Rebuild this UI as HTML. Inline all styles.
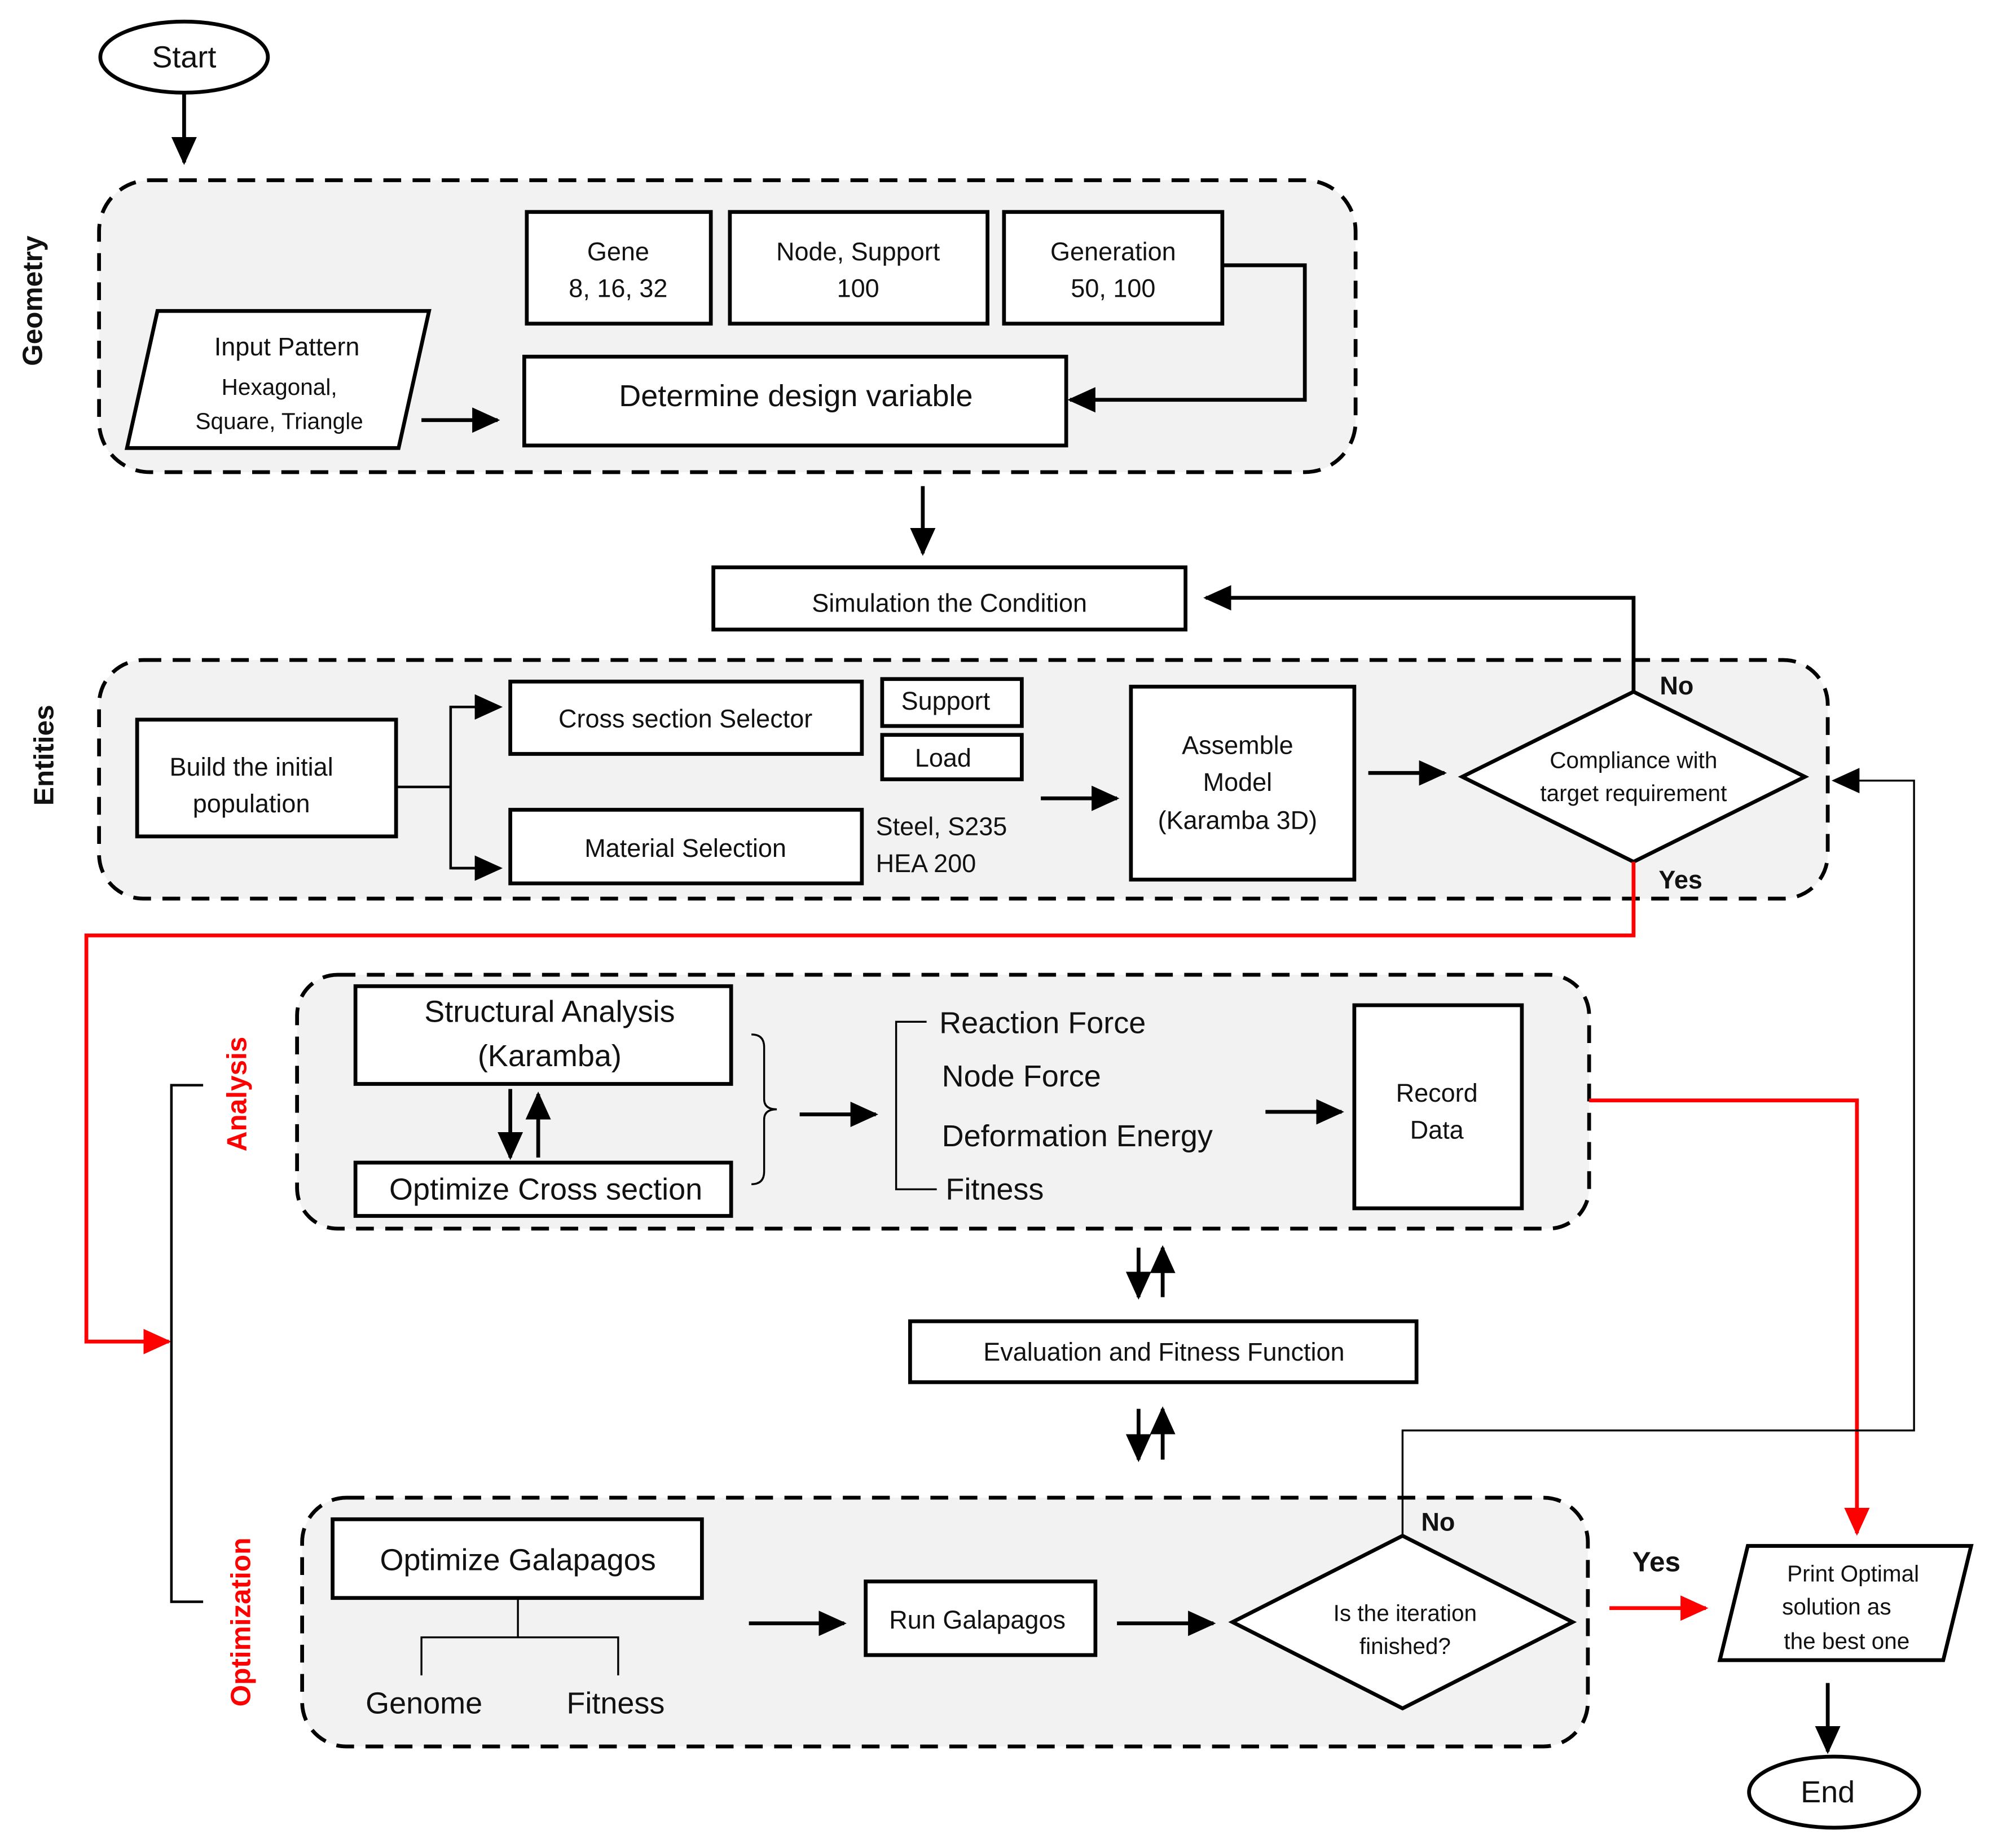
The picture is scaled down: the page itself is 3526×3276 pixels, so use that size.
<!DOCTYPE html>
<html><head><meta charset="utf-8"><style>
html,body{margin:0;padding:0;background:#fff;}
svg{display:block;}
text{font-family:"Liberation Sans",sans-serif;fill:#111;}
</style></head><body>
<svg width="3526" height="3276" viewBox="0 0 1567 1456" xmlns="http://www.w3.org/2000/svg">
<defs>
<marker id="a" markerWidth="8" markerHeight="8" refX="7" refY="4" orient="auto" markerUnits="userSpaceOnUse" viewBox="0 0 8 8"><path d="M0,0 L8,4 L0,8z" fill="#000"/></marker>
<marker id="ab" markerWidth="22" markerHeight="20" refX="20" refY="10" orient="auto" markerUnits="userSpaceOnUse"><path d="M0,0 L22,10 L0,20z" fill="#000"/></marker>
<marker id="ar" markerWidth="22" markerHeight="20" refX="20" refY="10" orient="auto" markerUnits="userSpaceOnUse"><path d="M0,0 L22,10 L0,20z" fill="#f00"/></marker>
</defs>
<g fill="none" stroke="#000" stroke-width="3">
<!-- groups -->
<rect x="78" y="142" width="990" height="230" rx="40" fill="#f2f2f2" stroke-dasharray="14,9"/>
<rect x="78" y="520" width="1362" height="188" rx="35" fill="#f2f2f2" stroke-dasharray="14,9"/>
<rect x="234" y="768" width="1018" height="200" rx="32" fill="#f2f2f2" stroke-dasharray="14,9"/>
<rect x="238" y="1180" width="1013" height="196" rx="35" fill="#f2f2f2" stroke-dasharray="14,9"/>

<ellipse cx="145" cy="45" rx="66" ry="28" fill="#fff"/>
<line x1="145" y1="74" x2="145" y2="128" marker-end="url(#ab)"/>
<rect x="415" y="167" width="145" height="88" fill="#fff"/>
<rect x="575" y="167" width="203" height="88" fill="#fff"/>
<rect x="791" y="167" width="172" height="88" fill="#fff"/>
<rect x="413" y="281" width="427" height="70" fill="#fff"/>
<polyline points="963,209 1028,209 1028,315 843,315" marker-end="url(#ab)"/>
<polygon points="124,245 338,245 314,353 100,353" fill="#fff"/>
<line x1="332" y1="331" x2="392" y2="331" marker-end="url(#ab)"/>
<line x1="727" y1="383" x2="727" y2="436" marker-end="url(#ab)"/>
<rect x="562" y="447" width="372" height="49" fill="#fff"/>
<polyline points="1287,545 1287,471 950,471" marker-end="url(#ab)"/>

<rect x="108" y="567" width="204" height="92" fill="#fff"/>
<polyline points="312,620 355,620" stroke-width="2"/>
<polyline points="394,557 355,557 355,684 394,684" stroke-width="2" fill="none"/>
<line x1="356" y1="557" x2="394" y2="557" marker-end="url(#ab)" stroke-width="2"/>
<line x1="356" y1="684" x2="394" y2="684" marker-end="url(#ab)" stroke-width="2"/>
<rect x="402" y="537" width="277" height="57" fill="#fff"/>
<rect x="402" y="638" width="277" height="58" fill="#fff"/>
<rect x="695" y="535" width="110" height="37" fill="#fff"/>
<rect x="695" y="579" width="110" height="35" fill="#fff"/>
<line x1="820" y1="629" x2="880" y2="629" marker-end="url(#ab)"/>
<rect x="891" y="541" width="176" height="152" fill="#fff"/>
<line x1="1078" y1="609" x2="1138" y2="609" marker-end="url(#ab)"/>
<polygon points="1152,612 1287,545 1422,612 1287,679" fill="#fff"/>
<polyline points="1287,679 1287,737 68,737 68,1057 133,1057" stroke="#f00" marker-end="url(#ar)"/>
<polyline points="160,855 135,855 135,1262 160,1262" stroke-width="2"/>

<rect x="280" y="777" width="296" height="77" fill="#fff"/>
<rect x="280" y="916" width="296" height="42" fill="#fff"/>
<line x1="402" y1="858" x2="402" y2="912" marker-end="url(#ab)"/>
<line x1="424" y1="912" x2="424" y2="862" marker-end="url(#ab)"/>
<path d="M592,815 Q602,815 602,825 L602,866 Q602,874 612,874 Q602,874 602,882 L602,923 Q602,933 592,933" stroke-width="1.5"/>
<line x1="630" y1="878" x2="690" y2="878" marker-end="url(#ab)"/>
<polyline points="730,805 706,805 706,937 738,937" stroke-width="1.5"/>
<line x1="997" y1="876" x2="1057" y2="876" marker-end="url(#ab)"/>
<rect x="1067" y="792" width="132" height="160" fill="#fff"/>
<polyline points="1252,867 1463,867 1463,1208" stroke="#f00" marker-end="url(#ar)"/>

<line x1="897" y1="983" x2="897" y2="1022" marker-end="url(#ab)"/>
<line x1="916" y1="1022" x2="916" y2="983" marker-end="url(#ab)"/>
<rect x="717" y="1041" width="399" height="48" fill="#fff"/>
<line x1="897" y1="1110" x2="897" y2="1150" marker-end="url(#ab)"/>
<line x1="916" y1="1150" x2="916" y2="1110" marker-end="url(#ab)"/>

<rect x="262" y="1197" width="291" height="62" fill="#fff"/>
<polyline points="408,1259 408,1290" stroke-width="1.5"/>
<polyline points="332,1320 332,1290 487,1290 487,1320" stroke-width="1.5"/>
<line x1="590" y1="1279" x2="665" y2="1279" marker-end="url(#ab)"/>
<rect x="682" y="1246" width="181" height="58" fill="#fff"/>
<line x1="880" y1="1279" x2="956" y2="1279" marker-end="url(#ab)"/>
<polygon points="971,1278 1105,1210 1239,1278 1105,1346" fill="#fff"/>
<polyline points="1105,1210 1105,1127 1508,1127 1508,615 1445,615" stroke-width="1.5" marker-end="url(#ab)"/>
<line x1="1268" y1="1267" x2="1344" y2="1267" stroke="#f00" marker-end="url(#ar)"/>
<polygon points="1377,1218 1553,1218 1531,1308 1355,1308" fill="#fff"/>
<line x1="1440" y1="1326" x2="1440" y2="1380" marker-end="url(#ab)"/>
<ellipse cx="1445" cy="1412" rx="67" ry="28" fill="#fff"/>
</g>

<g font-size="20" text-anchor="middle">
<text x="145" y="53" font-size="24">Start</text>
<text transform="translate(33,237) rotate(-90)" font-weight="bold" font-size="22">Geometry</text>
<text x="487" y="205">Gene</text><text x="487" y="234">8, 16, 32</text>
<text x="676" y="205">Node, Support</text><text x="676" y="234">100</text>
<text x="877" y="205">Generation</text><text x="877" y="234">50, 100</text>
<text x="627" y="320" font-size="24">Determine design variable</text>
<text x="226" y="280">Input Pattern</text>
<text x="220" y="311" font-size="18">Hexagonal,</text>
<text x="220" y="338" font-size="18">Square, Triangle</text>
<text x="748" y="482">Simulation the Condition</text>
<text transform="translate(42,595) rotate(-90)" font-weight="bold" font-size="22">Entities</text>
<text x="198" y="611">Build the initial</text><text x="198" y="640">population</text>
<text x="540" y="573">Cross section Selector</text>
<text x="540" y="675">Material Selection</text>
<text x="745" y="559">Support</text>
<text x="743" y="604">Load</text>
<text x="690" y="658" text-anchor="start">Steel, S235</text>
<text x="690" y="687" text-anchor="start">HEA 200</text>
<text x="975" y="594">Assemble</text><text x="975" y="623">Model</text><text x="975" y="653">(Karamba 3D)</text>
<text x="1287" y="605" font-size="18">Compliance with</text>
<text x="1287" y="631" font-size="18">target requirement</text>
<text x="1321" y="547" font-weight="bold">No</text>
<text x="1324" y="700" font-weight="bold">Yes</text>
<text transform="translate(194,862) rotate(-90)" font-weight="bold" font-size="22" style="fill:#f00">Analysis</text>
<text transform="translate(197,1278) rotate(-90)" font-weight="bold" font-size="22" style="fill:#f00">Optimization</text>
<text x="433" y="805" font-size="24">Structural Analysis</text>
<text x="433" y="840" font-size="24">(Karamba)</text>
<text x="430" y="945" font-size="24">Optimize Cross section</text>
<g text-anchor="start" font-size="24">
<text x="740" y="814">Reaction Force</text>
<text x="742" y="856">Node Force</text>
<text x="742" y="903">Deformation Energy</text>
<text x="745" y="945">Fitness</text>
</g>
<text x="1132" y="868">Record</text><text x="1132" y="897">Data</text>
<text x="917" y="1072">Evaluation and Fitness Function</text>
<text x="408" y="1237" font-size="24">Optimize Galapagos</text>
<text x="334" y="1350" font-size="24">Genome</text>
<text x="485" y="1350" font-size="24">Fitness</text>
<text x="770" y="1283">Run Galapagos</text>
<text x="1107" y="1277" font-size="18">Is the iteration</text>
<text x="1107" y="1303" font-size="18">finished?</text>
<text x="1133" y="1206" font-weight="bold">No</text>
<text x="1305" y="1238" font-weight="bold" font-size="22">Yes</text>
<text x="1460" y="1246" font-size="18">Print Optimal</text>
<text x="1447" y="1272" font-size="18">solution as</text>
<text x="1455" y="1299" font-size="18">the best one</text>
<text x="1440" y="1420" font-size="24">End</text>
</g>
</svg>
</body></html>
